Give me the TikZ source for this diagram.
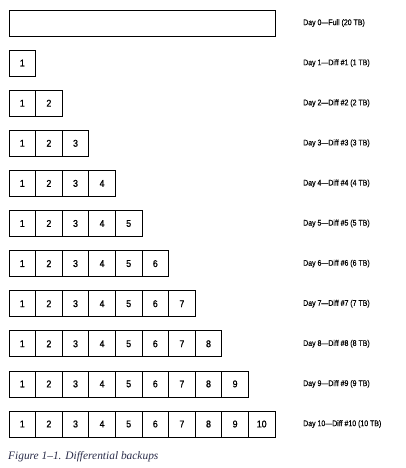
\documentclass[tikz,border=0pt]{standalone}
\usepackage{fontspec}
\newfontfamily\narrowsans[FakeStretch=0.85,FakeBold=0.4]{Liberation Sans}
\newfontfamily\digitsans[FakeStretch=0.9,FakeBold=1.2]{Liberation Sans}
\newfontfamily\capfont{Liberation Serif}
\definecolor{capblue}{HTML}{2B2D4A}
\begin{document}
\begin{tikzpicture}[x=1pt,y=-1pt,
  cellbox/.style={draw=black,line width=0.8pt,minimum width=26.6pt,minimum height=26pt,
    inner sep=0pt,outer sep=0pt,anchor=north west,font=\digitsans\fontsize{9.8}{10}\selectfont},
  fullbox/.style={draw=black,line width=0.8pt,minimum width=266pt,minimum height=26pt,
    inner sep=0pt,outer sep=0pt,anchor=north west},
  daylabel/.style={anchor=west,inner sep=0pt,font=\narrowsans\fontsize{8.2}{9}\selectfont}]
\useasboundingbox (0,0) rectangle (405,468);
\node[fullbox] (full) at (9,10) {};
\node[daylabel] (label0) at (303,23) {Day 0—Full (20 TB)};
\foreach \i in {1,...,10}{
  \foreach \j in {1,...,\i}{
    \node[cellbox] (cell-\i-\j) at ({9+26.6*(\j-1)},{10+40.1*\i}) {\j};
  }
  \node[daylabel] (label\i) at (303,{23+40.1*\i}) {Day \i—Diff \#\i\ (\i\ TB)};
}
\node[anchor=base west,inner sep=0pt,text=capblue,font=\capfont\itshape\fontsize{11.4}{12}\selectfont] (caption) at (8,459) {Figure 1–1. Differential backups};
\end{tikzpicture}
\end{document}
